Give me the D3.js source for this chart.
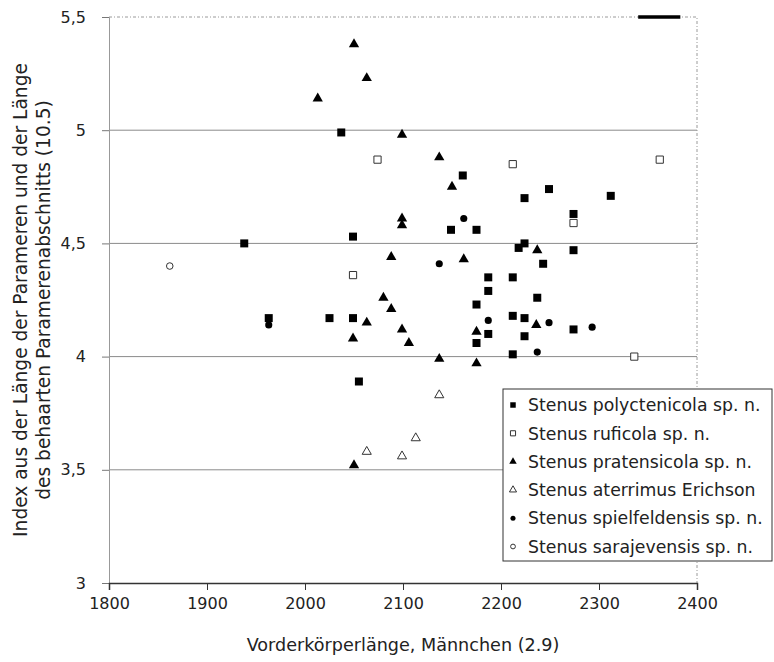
<!DOCTYPE html>
<html>
<head>
  <meta charset="utf-8">
  <title>Stenus Index</title>
  <style>
    body { margin: 0; background: #fff; }
    svg text { font-family: "DejaVu Sans", sans-serif; font-size: 16px; fill: #222; }
    .grid line { stroke: #8a8a8a; stroke-width: 1; }
    .frame { stroke: #9a9a9a; stroke-width: 1; stroke-dasharray: 3,2,1,2; fill: none; }
  </style>
</head>
<body>
  <svg width="774" height="662"></svg>
  <script src="https://d3js.org/d3.v7.min.js"></script>
  <script>
    // series names (legend order)
    const names = [
      "Stenus polyctenicola sp. n.",
      "Stenus ruficola sp. n.",
      "Stenus pratensicola sp. n.",
      "Stenus aterrimus Erichson",
      "Stenus spielfeldensis sp. n.",
      "Stenus sarajevensis sp. n."
    ];

    // [Vorderkörperlänge, Index]
    const polyctenicola = [
      [2037, 4.99], [2161, 4.80], [2249, 4.74], [2312, 4.71], [2224, 4.70],
      [2274, 4.63], [2149, 4.56], [2175, 4.56], [2049, 4.53], [1938, 4.50],
      [2224, 4.50], [2218, 4.48], [2274, 4.47], [2243, 4.41], [2187, 4.35],
      [2212, 4.35], [2187, 4.29], [2237, 4.26], [2175, 4.23], [1963, 4.17],
      [2025, 4.17], [2049, 4.17], [2212, 4.18], [2224, 4.17], [2274, 4.12],
      [2187, 4.10], [2224, 4.09], [2175, 4.06], [2212, 4.01], [2055, 3.89]
    ];
    const ruficola = [
      [2074, 4.87], [2212, 4.85], [2362, 4.87], [2274, 4.59], [2049, 4.36], [2336, 4.00]
    ];
    const pratensicola = [
      [2050, 5.38], [2063, 5.23], [2013, 5.14], [2099, 4.98], [2137, 4.88],
      [2150, 4.75], [2099, 4.61], [2099, 4.58], [2162, 4.43], [2088, 4.44],
      [2237, 4.47], [2080, 4.26], [2088, 4.21], [2063, 4.15], [2049, 4.08],
      [2099, 4.12], [2106, 4.06], [2175, 4.11], [2236, 4.14], [2137, 3.99],
      [2175, 3.97], [2050, 3.52]
    ];
    const aterrimus = [[2137, 3.83], [2063, 3.58], [2113, 3.64], [2099, 3.56]];
    const spielfeldensis = [
      [1963, 4.14], [2162, 4.61], [2137, 4.41], [2187, 4.16], [2249, 4.15], [2293, 4.13], [2237, 4.02]
    ];
    const sarajevensis = [[1862, 4.40]];

    const xTicks = [1800, 1900, 2000, 2100, 2200, 2300, 2400];
    const yTicks = [3, 3.5, 4, 4.5, 5, 5.5];
    const topMark = [2340, 2383];  // short black bar on the top border

    const seriesData = [polyctenicola, ruficola, pratensicola, aterrimus, spielfeldensis, sarajevensis];
    const shapes = [d3.symbolSquare, d3.symbolSquare, d3.symbolTriangle, d3.symbolTriangle, d3.symbolCircle, d3.symbolCircle];
    const filled = [true, false, true, false, true, false];
    const sizes = [64, 52, 46, 36, 40, 34];
    const legendSizes = [30, 26, 24, 22, 20, 18];

    const svg = d3.select("svg"),
          margin = {top: 17, right: 77, bottom: 79, left: 109},
          width = 774 - margin.left - margin.right,
          height = 662 - margin.top - margin.bottom;

    const x = d3.scaleLinear().domain([1800, 2400]).range([0, width]);
    const y = d3.scaleLinear().domain([3, 5.5]).range([height, 0]);

    const g = svg.append("g")
      .attr("transform", "translate(" + margin.left + "," + margin.top + ")");

    // gridlines
    g.append("g").attr("class", "grid")
      .selectAll("line")
      .data(yTicks.filter(function(d) { return d > 3 && d < 5.5; }))
      .enter().append("line")
      .attr("x1", 0).attr("x2", width)
      .attr("y1", function(d) { return y(d); })
      .attr("y2", function(d) { return y(d); });

    // dotted frame top and right
    g.append("path").attr("class", "frame")
      .attr("d", "M0," + y(5.5) + "H" + x(2400) + "V" + y(3));

    // black mark on top border
    g.append("line")
      .attr("x1", x(topMark[0])).attr("x2", x(topMark[1]))
      .attr("y1", y(5.5)).attr("y2", y(5.5))
      .attr("stroke", "#000").attr("stroke-width", 3.5);

    // y axis
    const yAxis = g.append("g")
      .call(d3.axisLeft(y).tickValues(yTicks).tickSize(7).tickPadding(16)
        .tickFormat(function(d) { return String(d).replace(".", ","); }));
    yAxis.select(".domain").attr("stroke", "#999");
    yAxis.selectAll(".tick line").attr("stroke", "#777");
    yAxis.selectAll("text").attr("font-size", null).attr("font-family", null);

    // x axis
    const xAxis = g.append("g")
      .attr("transform", "translate(0," + height + ")")
      .call(d3.axisBottom(x).tickValues(xTicks).tickSize(7).tickPadding(8)
        .tickFormat(d3.format("d")));
    xAxis.select(".domain").attr("stroke", "#333").attr("stroke-width", 1.5);
    xAxis.selectAll(".tick line").attr("stroke", "#333");
    xAxis.selectAll("text").attr("font-size", null).attr("font-family", null);

    // points
    seriesData.forEach(function(data, i) {
      g.append("g").selectAll("path")
        .data(data)
        .enter().append("path")
        .attr("transform", function(d) { return "translate(" + x(d[0]) + "," + y(d[1]) + ")"; })
        .attr("d", d3.symbol().type(shapes[i]).size(sizes[i]))
        .attr("fill", filled[i] ? "#000" : "#fff")
        .attr("stroke", filled[i] ? "none" : "#333")
        .attr("stroke-width", 1);
    });

    // axis titles
    svg.append("text")
      .attr("x", margin.left + width / 2)
      .attr("y", 651)
      .attr("text-anchor", "middle")
      .style("font-size", "17.6px")
      .text("Vorderkörperlänge, Männchen (2.9)");

    const yTitle = svg.append("text")
      .attr("transform", "translate(0," + (margin.top + height / 2) + ") rotate(-90)")
      .attr("text-anchor", "middle")
      .style("font-size", "18.6px");
    yTitle.append("tspan").attr("x", 0).attr("y", 27)
      .text("Index aus der Länge der Parameren und der Länge");
    yTitle.append("tspan").attr("x", 0).attr("y", 50)
      .text("des behaarten Paramerenabschnitts (10.5)");

    // legend
    const legend = svg.append("g").attr("transform", "translate(503,389)");
    legend.append("rect")
      .attr("width", 269).attr("height", 172)
      .attr("fill", "#fff").attr("stroke", "#333").attr("stroke-width", 1);
    const item = legend.selectAll(".item")
      .data(names)
      .enter().append("g")
      .attr("class", "item")
      .attr("transform", function(d, i) { return "translate(0," + (16 + i * 28.3) + ")"; });
    item.append("path")
      .attr("transform", "translate(10,0)")
      .attr("d", function(d, i) { return d3.symbol().type(shapes[i]).size(legendSizes[i])(); })
      .attr("fill", function(d, i) { return filled[i] ? "#000" : "#fff"; })
      .attr("stroke", function(d, i) { return filled[i] ? "none" : "#333"; });
    item.append("text")
      .attr("x", 25)
      .attr("dy", "0.36em")
      .style("font-size", "17.3px")
      .text(function(d) { return d; });
  </script>
</body>
</html>
